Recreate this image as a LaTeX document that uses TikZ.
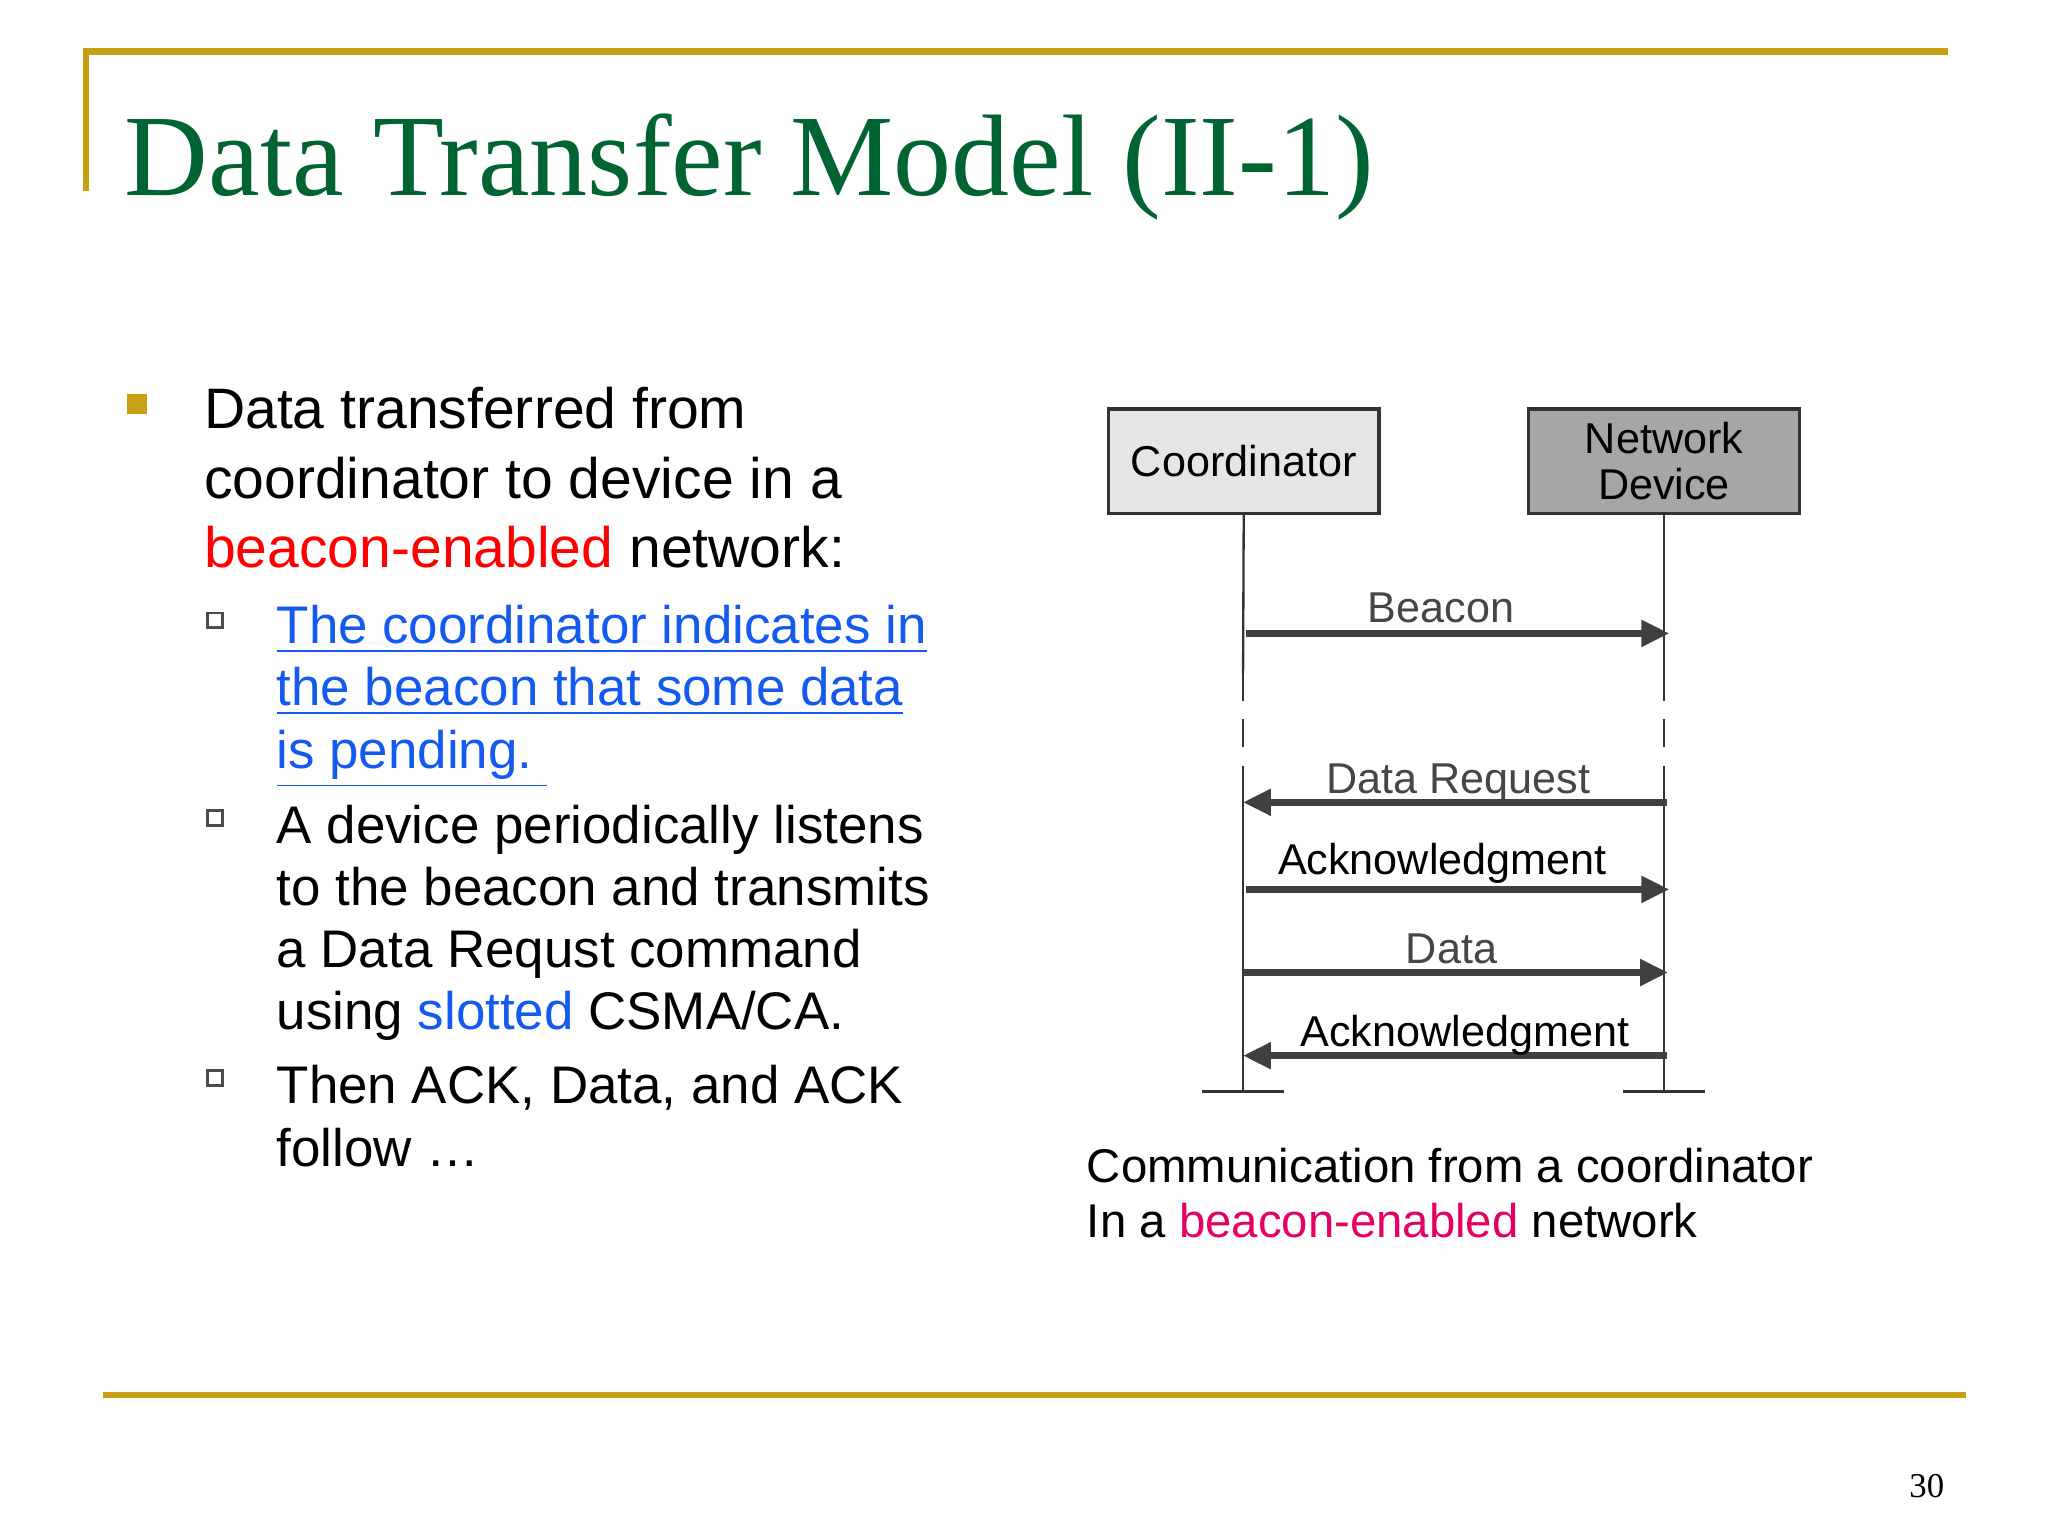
\documentclass[tikz,border=0pt]{standalone}
\usepackage{fontspec}
\setmainfont{Liberation Sans}
\newfontfamily\seriff{Liberation Serif}
\usetikzlibrary{arrows.meta}
\definecolor{gold}{RGB}{200,160,20}
\definecolor{tgreen}{RGB}{0,100,50}
\definecolor{linkblue}{RGB}{20,90,240}
\definecolor{pinkish}{RGB}{230,0,100}
\definecolor{lblgray}{RGB}{70,70,70}
\begin{document}
\begin{tikzpicture}[x=0.01cm,y=-0.01cm,
  body/.style={anchor=base west,inner sep=0,font=\fontsize{12.3}{14}\selectfont},
  sub/.style={anchor=base west,inner sep=0,font=\fontsize{11.4}{13}\selectfont},
  box/.style={draw=black!80,line width=0.7pt,minimum width=2.05cm,minimum height=0.79cm,align=center,font=\fontsize{9.3}{9.8}\selectfont,inner sep=0},
  life/.style={line width=0.5pt,black!80},
  msg/.style={line width=1.4pt,black!75,-{Triangle[length=6pt,width=5.5pt]}},
  lbl/.style={font=\fontsize{9.3}{10}\selectfont,inner sep=0,anchor=base}]
\useasboundingbox (0,0) rectangle (1552,1164);
\fill[white] (0,0) rectangle (1552,1164);
% frame lines
\draw[gold,line width=1.4pt] (65,145) -- (65,39) -- (1476,39);
\draw[gold,line width=1.4pt] (78,1057) -- (1490,1057);
\node[anchor=base west,inner sep=0,text=tgreen,font=\seriff\fontsize{25}{28}\selectfont] (title) at (94,148) {Data Transfer Model (II-1)};
\node[anchor=base east,inner sep=0,font=\seriff\fontsize{7.5}{8}\selectfont] (pg) at (1474,1135) {30};
% bullets
\node[fill=gold,minimum size=0.15cm,inner sep=0] (b1) at (104,306) {};
\node[body] (t1) at (154,325) {Data transferred from};
\node[body] (t2) at (154,378) {coordinator to device in a};
\node[body] (t3) at (154,430) {\textcolor{red}{beacon-enabled} network:};
\foreach \yy/\nm in {470/s1,620/s2,817/s3}
  \node[draw=black!70,fill=white,minimum size=0.11cm,inner sep=0,line width=0.6pt] (\nm) at (163,\yy) {};
\node[sub,text=linkblue] (u1) at (209,488) {\underline{The coordinator indicates in}};
\node[sub,text=linkblue] (u2) at (209,535) {\underline{the beacon that some data}};
\node[sub,text=linkblue] (u3) at (209,582) {\underline{is pending.\ }};
\node[sub] (a1) at (209,639) {A device periodically listens};
\node[sub] (a2) at (209,686) {to the beacon and transmits};
\node[sub] (a3) at (209,733) {a Data Requst command};
\node[sub] (a4) at (209,780) {using \textcolor{linkblue}{slotted} CSMA/CA.};
\node[sub] (c1) at (209,836) {Then ACK, Data, and ACK};
\node[sub] (c2) at (209,884) {follow \dots};
% diagram
\node[box,fill=black!10] (coord) at (942.5,349.5) {Coordinator};
\node[box,fill=black!35] (dev) at (1261,349.5) {Network\\Device};
\coordinate (cA) at (942,510); \coordinate (cB) at (942,590); \coordinate (cE) at (942,827);
\coordinate (dA) at (1261,510); \coordinate (dB) at (1261,590); \coordinate (dE) at (1261,827);
\draw[life] (coord.south) -- (cA);
\draw[life,dash pattern=on 6pt off 4pt] (cA) -- (cB);
\draw[life] (cB) -- (cE);
\draw[life] (dev.south) -- (dA);
\draw[life,dash pattern=on 6pt off 4pt] (dA) -- (dB);
\draw[life] (dB) -- (dE);
\coordinate (cl) at (911,827); \coordinate (cr) at (973,827);
\coordinate (dl) at (1230,827); \coordinate (dr) at (1292,827);
\draw[life,line width=0.7pt] (cl) -- (cr);
\draw[life,line width=0.7pt] (dl) -- (dr);
\coordinate (m1a) at (944,480); \coordinate (m1b) at (1265,480);
\coordinate (m2a) at (1263,608); \coordinate (m2b) at (942,608);
\coordinate (m3a) at (944,674); \coordinate (m3b) at (1265,674);
\coordinate (m4a) at (942,737); \coordinate (m4b) at (1264,737);
\coordinate (m5a) at (1263,800); \coordinate (m5b) at (942,800);
\draw[msg] (m1a) -- (m1b);
\draw[msg] (m2a) -- (m2b);
\draw[msg] (m3a) -- (m3b);
\draw[msg] (m4a) -- (m4b);
\draw[msg] (m5a) -- (m5b);
\node[lbl,text=lblgray] (l1) at (1092,472) {Beacon};
\node[lbl,text=lblgray] (l2) at (1105,601) {Data Request};
\node[lbl] (l3) at (1093,663) {Acknowledgment};
\node[lbl,text=lblgray] (l4) at (1100,730) {Data};
\node[lbl] (l5) at (1110,793) {Acknowledgment};
\node[anchor=base west,inner sep=0,font=\fontsize{10.2}{12}\selectfont] (cap1) at (823,896) {Communication from a coordinator};
\node[anchor=base west,inner sep=0,font=\fontsize{10.2}{12}\selectfont] (cap2) at (823,938) {In a \textcolor{pinkish}{beacon-enabled} network};
\end{tikzpicture}
\end{document}
